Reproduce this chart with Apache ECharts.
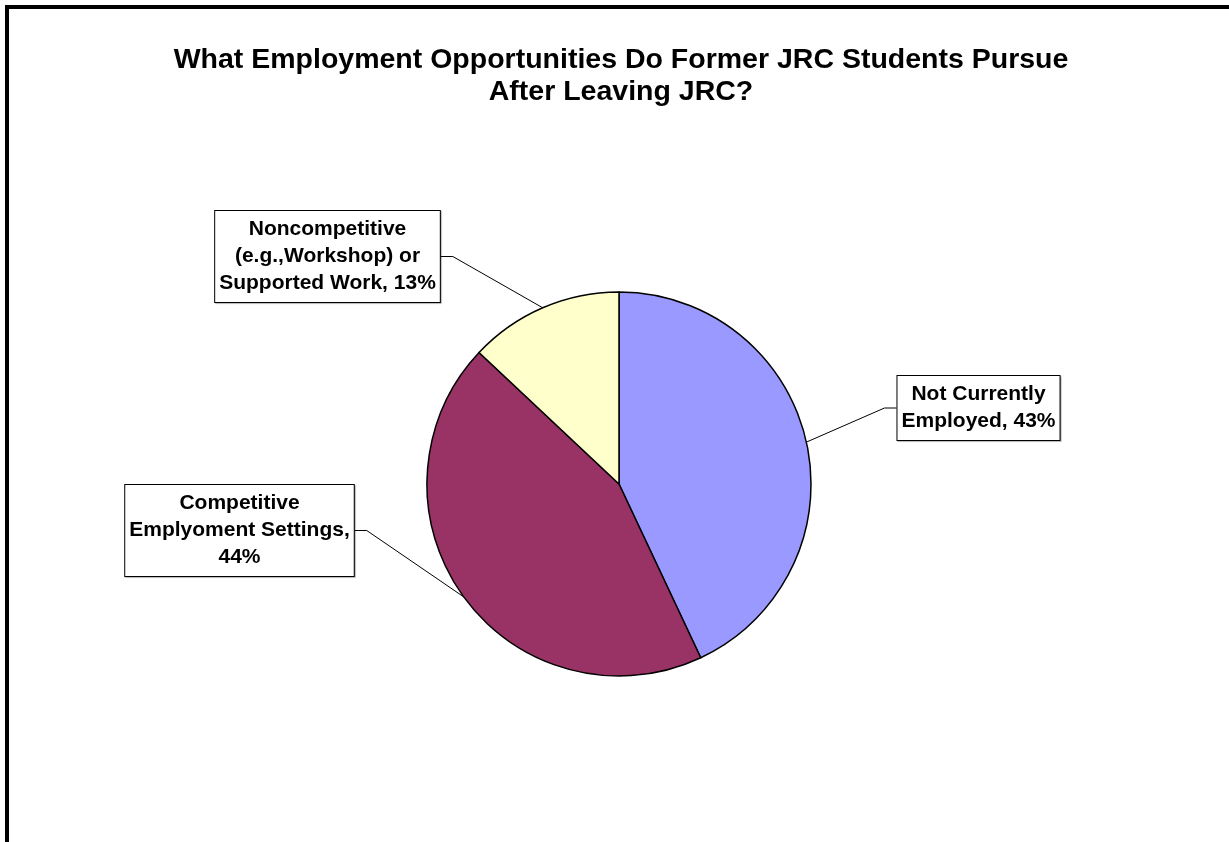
<!DOCTYPE html>
<html>
<head>
<meta charset="utf-8">
<script src="https://cdn.jsdelivr.net/npm/echarts@6/dist/echarts.min.js"></script>
<style>
  html, body { margin: 0; padding: 0; background: #fff; }
  #chart { width: 1229px; height: 842px; }
</style>
</head>
<body>
<div id="chart"></div>
<script>
// ---- data ----
const titleText = 'What Employment Opportunities Do Former JRC Students Pursue\nAfter Leaving JRC?';
const categories = ['Not Currently Employed', 'Competitive Emplyoment Settings', 'Noncompetitive (e.g.,Workshop) or Supported Work'];
const values = [43, 44, 13];
const labelTemplates = [
  'Not Currently\nEmployed, {p}%',
  'Competitive\nEmplyoment Settings,\n{p}%',
  'Noncompetitive\n(e.g.,Workshop) or\nSupported Work, {p}%'
];
const colors = ['#9999FF', '#993366', '#FFFFCC'];

// ---- layout (label box centres) ----
const labelCenters = [[978.5, 408], [239.5, 530.5], [327.5, 256.5]];

const chart = echarts.init(document.getElementById('chart'), null, { renderer: 'canvas' });

const option = {
  animation: false,
  backgroundColor: '#ffffff',
  title: {
    text: titleText,
    left: 616,
    top: 39,
    textAlign: 'center',
    textStyle: {
      fontFamily: '"Liberation Sans", Arial, sans-serif',
      fontSize: 28.5,
      fontWeight: 'bold',
      color: '#000',
      lineHeight: 32
    }
  },
  graphic: [{
    type: 'rect',
    silent: true,
    shape: { x: 7, y: 7, width: 1400, height: 1000 },
    style: { fill: 'none', stroke: '#000', lineWidth: 4 }
  }],
  series: [{
    type: 'pie',
    center: [619, 484],
    radius: 192,
    startAngle: 90,
    clockwise: true,
    silent: true,
    emphasis: { disabled: true },
    data: categories.map((c, i) => ({ name: c, value: values[i], itemStyle: { color: colors[i] } })),
    itemStyle: { borderColor: '#000', borderWidth: 1.5 },
    label: {
      show: true,
      position: 'outside',
      formatter: (p) => labelTemplates[p.dataIndex].replace('{p}', Math.round(p.percent)),
      fontFamily: '"Liberation Sans", Arial, sans-serif',
      fontSize: 21,
      fontWeight: 'bold',
      color: '#000',
      lineHeight: 27,
      align: 'center',
      backgroundColor: '#fff',
      borderColor: '#000',
      borderWidth: 1,
      padding: [5, 4, 5, 4],
      shadowColor: 'rgba(0,0,0,0.25)',
      shadowOffsetX: 1,
      shadowOffsetY: 1,
      shadowBlur: 1
    },
    labelLine: {
      show: true,
      length: 20,
      length2: 10,
      lineStyle: { color: '#000', width: 1 }
    },
    labelLayout: function (params) {
      const i = params.dataIndex;
      const cx = labelCenters[i][0], cy = labelCenters[i][1];
      const w = params.labelRect.width;
      const anchor = params.labelLinePoints ? params.labelLinePoints[0] : null;
      const res = { x: cx, y: cy, align: 'center', verticalAlign: 'middle' };
      if (anchor) {
        const onLeft = cx < anchor[0];
        const edgeX = onLeft ? cx + w / 2 : cx - w / 2;
        const elbowX = onLeft ? edgeX + 12 : edgeX - 12;
        res.labelLinePoints = [[anchor[0], anchor[1]], [elbowX, cy], [edgeX, cy]];
      }
      return res;
    }
  }]
};
chart.setOption(option);
</script>
</body>
</html>
